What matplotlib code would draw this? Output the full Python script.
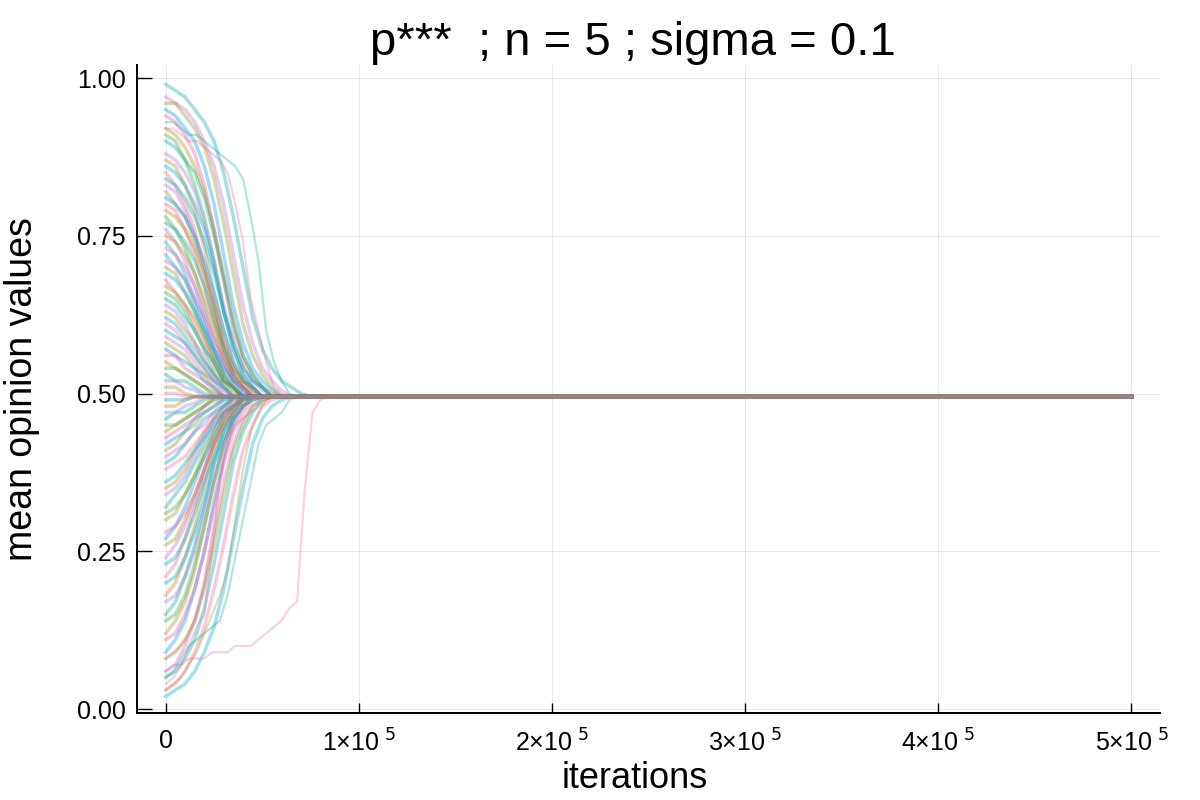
import matplotlib
matplotlib.use("Agg")
import matplotlib.pyplot as plt
from matplotlib.ticker import FuncFormatter

plt.rcParams['font.family'] = ['Liberation Sans', 'DejaVu Sans']

# iteration checkpoints; each run is held at the consensus value once its list ends
iters = [0, 5000, 10000, 15000, 20000, 25000, 30000, 35000, 40000, 45000, 50000,
         55000, 60000, 65000, 70000, 75000, 80000, 85000, 90000]
slow_iters = [0, 4000, 8000, 12000, 16000, 20000, 24000, 28000, 32000, 36000, 40000,
              44000, 48000, 52000, 56000, 60000, 64000, 68000, 72000, 76000, 80000, 84000]
last_iter = 500000
final_value = 0.495

upper_runs = [
    [0.99, 0.98, 0.97, 0.95, 0.93, 0.90, 0.85, 0.78, 0.70, 0.62, 0.57, 0.54, 0.52, 0.51, 0.50],
    [0.97, 0.96, 0.95, 0.93, 0.90, 0.86, 0.80, 0.72, 0.64, 0.58, 0.54, 0.52, 0.505],
    [0.96, 0.96, 0.94, 0.92, 0.89, 0.84, 0.77, 0.69, 0.61, 0.56, 0.53, 0.51],
    [0.95, 0.94, 0.92, 0.90, 0.86, 0.80, 0.72, 0.64, 0.58, 0.54, 0.52, 0.505],
    [0.94, 0.93, 0.91, 0.88, 0.83, 0.76, 0.68, 0.60, 0.55, 0.52, 0.51],
    [0.92, 0.91, 0.89, 0.86, 0.82, 0.76, 0.69, 0.62, 0.56, 0.53, 0.51, 0.50],
    [0.91, 0.90, 0.87, 0.83, 0.78, 0.71, 0.63, 0.57, 0.53, 0.51],
    [0.90, 0.89, 0.87, 0.85, 0.81, 0.75, 0.68, 0.61, 0.56, 0.53, 0.51],
    [0.88, 0.87, 0.85, 0.82, 0.77, 0.71, 0.64, 0.58, 0.54, 0.52, 0.505],
    [0.87, 0.86, 0.83, 0.79, 0.73, 0.66, 0.60, 0.55, 0.52, 0.51],
    [0.86, 0.85, 0.83, 0.80, 0.76, 0.70, 0.63, 0.57, 0.53, 0.51],
    [0.85, 0.83, 0.80, 0.76, 0.70, 0.64, 0.58, 0.54, 0.52, 0.505],
    [0.84, 0.83, 0.81, 0.78, 0.74, 0.69, 0.63, 0.58, 0.54, 0.52, 0.51],
    [0.83, 0.82, 0.79, 0.75, 0.70, 0.64, 0.58, 0.54, 0.52, 0.50],
    [0.82, 0.80, 0.78, 0.74, 0.69, 0.63, 0.57, 0.53, 0.51],
    [0.81, 0.80, 0.78, 0.75, 0.71, 0.66, 0.60, 0.55, 0.52, 0.51],
    [0.80, 0.79, 0.76, 0.72, 0.67, 0.61, 0.56, 0.53, 0.51],
    [0.79, 0.78, 0.76, 0.73, 0.69, 0.64, 0.58, 0.54, 0.52, 0.505],
    [0.78, 0.76, 0.73, 0.69, 0.64, 0.59, 0.55, 0.52, 0.51],
    [0.77, 0.76, 0.74, 0.71, 0.67, 0.62, 0.57, 0.53, 0.51],
    [0.76, 0.74, 0.71, 0.67, 0.62, 0.57, 0.54, 0.52, 0.505],
    [0.75, 0.74, 0.72, 0.69, 0.65, 0.61, 0.56, 0.53, 0.51],
    [0.74, 0.72, 0.69, 0.65, 0.61, 0.57, 0.53, 0.51],
    [0.73, 0.72, 0.70, 0.67, 0.63, 0.59, 0.55, 0.52, 0.51],
    [0.72, 0.70, 0.68, 0.64, 0.60, 0.56, 0.53, 0.51],
    [0.71, 0.70, 0.68, 0.65, 0.62, 0.58, 0.55, 0.52, 0.505],
    [0.70, 0.69, 0.66, 0.63, 0.59, 0.55, 0.52, 0.51],
    [0.69, 0.68, 0.66, 0.63, 0.60, 0.57, 0.54, 0.52, 0.50],
    [0.68, 0.66, 0.64, 0.61, 0.58, 0.55, 0.52, 0.51],
    [0.67, 0.66, 0.64, 0.62, 0.59, 0.56, 0.53, 0.51],
    [0.66, 0.65, 0.63, 0.60, 0.57, 0.54, 0.52, 0.505],
    [0.65, 0.64, 0.62, 0.60, 0.57, 0.55, 0.52, 0.51],
    [0.64, 0.63, 0.61, 0.58, 0.56, 0.53, 0.51],
    [0.63, 0.62, 0.60, 0.58, 0.55, 0.53, 0.515, 0.50],
    [0.62, 0.61, 0.59, 0.57, 0.55, 0.53, 0.51],
    [0.61, 0.60, 0.58, 0.56, 0.54, 0.52, 0.505],
    [0.60, 0.59, 0.58, 0.56, 0.54, 0.52, 0.51],
    [0.59, 0.58, 0.57, 0.55, 0.53, 0.52, 0.50],
    [0.58, 0.57, 0.56, 0.54, 0.53, 0.51],
    [0.57, 0.56, 0.55, 0.54, 0.52, 0.51],
    [0.56, 0.56, 0.54, 0.53, 0.52, 0.505],
    [0.55, 0.54, 0.53, 0.52, 0.51],
    [0.54, 0.54, 0.53, 0.52, 0.51, 0.50],
    [0.53, 0.52, 0.52, 0.51, 0.50],
    [0.52, 0.52, 0.51, 0.505],
    [0.51, 0.51, 0.50],
]

lower_runs = [
    [0.02, 0.03, 0.04, 0.06, 0.09, 0.13, 0.19, 0.27, 0.35, 0.42, 0.46, 0.48, 0.49],
    [0.03, 0.04, 0.06, 0.09, 0.13, 0.19, 0.26, 0.34, 0.41, 0.45, 0.48, 0.49],
    [0.05, 0.06, 0.08, 0.11, 0.16, 0.23, 0.31, 0.39, 0.44, 0.47, 0.49],
    [0.06, 0.07, 0.10, 0.14, 0.20, 0.28, 0.36, 0.42, 0.46, 0.48],
    [0.08, 0.09, 0.11, 0.14, 0.19, 0.26, 0.34, 0.41, 0.45, 0.48, 0.49],
    [0.09, 0.11, 0.14, 0.19, 0.25, 0.33, 0.40, 0.45, 0.48],
    [0.11, 0.12, 0.15, 0.19, 0.25, 0.32, 0.39, 0.44, 0.47, 0.49],
    [0.12, 0.14, 0.17, 0.22, 0.29, 0.36, 0.42, 0.46, 0.48],
    [0.14, 0.15, 0.18, 0.23, 0.29, 0.36, 0.42, 0.46, 0.48, 0.49],
    [0.15, 0.17, 0.21, 0.26, 0.32, 0.39, 0.44, 0.47, 0.49],
    [0.17, 0.18, 0.21, 0.25, 0.31, 0.37, 0.42, 0.46, 0.48],
    [0.18, 0.20, 0.24, 0.29, 0.35, 0.41, 0.45, 0.48],
    [0.20, 0.21, 0.24, 0.28, 0.33, 0.39, 0.43, 0.46, 0.48, 0.49],
    [0.21, 0.23, 0.27, 0.32, 0.37, 0.42, 0.46, 0.48],
    [0.23, 0.24, 0.27, 0.31, 0.36, 0.40, 0.44, 0.47, 0.49],
    [0.24, 0.26, 0.29, 0.33, 0.38, 0.43, 0.46, 0.48],
    [0.26, 0.27, 0.30, 0.34, 0.38, 0.42, 0.45, 0.47, 0.49],
    [0.27, 0.29, 0.32, 0.36, 0.40, 0.44, 0.47, 0.48],
    [0.28, 0.29, 0.31, 0.34, 0.38, 0.42, 0.45, 0.47, 0.49],
    [0.30, 0.31, 0.34, 0.37, 0.41, 0.44, 0.47, 0.48],
    [0.31, 0.32, 0.34, 0.37, 0.40, 0.43, 0.46, 0.48, 0.49],
    [0.32, 0.34, 0.36, 0.39, 0.42, 0.45, 0.47, 0.49],
    [0.34, 0.35, 0.37, 0.40, 0.43, 0.45, 0.47, 0.48],
    [0.35, 0.36, 0.38, 0.41, 0.44, 0.46, 0.48, 0.49],
    [0.36, 0.37, 0.39, 0.41, 0.43, 0.46, 0.48],
    [0.38, 0.39, 0.40, 0.42, 0.44, 0.46, 0.47, 0.49],
    [0.39, 0.40, 0.42, 0.44, 0.46, 0.47, 0.48],
    [0.40, 0.41, 0.42, 0.44, 0.45, 0.47, 0.49],
    [0.41, 0.42, 0.44, 0.45, 0.47, 0.48],
    [0.42, 0.43, 0.44, 0.46, 0.47, 0.48, 0.49],
    [0.43, 0.44, 0.45, 0.46, 0.48, 0.49],
    [0.44, 0.45, 0.46, 0.47, 0.48],
    [0.45, 0.45, 0.46, 0.47, 0.48, 0.49],
    [0.46, 0.47, 0.47, 0.48, 0.49],
    [0.47, 0.47, 0.48, 0.485],
    [0.48, 0.48, 0.49],
    [0.49, 0.49, 0.49],
    [0.50, 0.50, 0.495],
]

# slow runs that stay away from the consensus for a long time (read on slow_iters)
slow_runs = [
    [0.93, 0.93, 0.92, 0.91, 0.91, 0.90, 0.89, 0.88, 0.87, 0.86, 0.84, 0.78, 0.71, 0.60, 0.55, 0.52, 0.50],
    [0.92, 0.92, 0.91, 0.90, 0.90, 0.89, 0.88, 0.87, 0.85, 0.80, 0.74, 0.65, 0.60, 0.55, 0.51, 0.50],
    [0.06, 0.07, 0.07, 0.08, 0.08, 0.08, 0.09, 0.09, 0.09, 0.10, 0.10, 0.10, 0.11, 0.12, 0.13,
     0.14, 0.16, 0.17, 0.35, 0.47, 0.49],
    [0.05, 0.06, 0.08, 0.10, 0.11, 0.12, 0.13, 0.14, 0.18, 0.24, 0.30, 0.36, 0.42, 0.45, 0.46, 0.47, 0.49],
    [0.04, 0.05, 0.07, 0.10, 0.13, 0.15, 0.25, 0.36, 0.43, 0.45, 0.46, 0.47, 0.48, 0.49],
    [0.03, 0.04, 0.05, 0.07, 0.09, 0.12, 0.15, 0.18, 0.22, 0.30, 0.38, 0.44, 0.47, 0.49],
    [0.08, 0.09, 0.10, 0.12, 0.15, 0.20, 0.28, 0.36, 0.42, 0.46, 0.48, 0.49],
]

palette = ["#00A9AD", "#C371D2", "#8E971D", "#009AF9", "#ED5E93", "#AC8D18",
           "#3DA44D", "#00A98D", "#9B7FE8", "#C68125", "#00A9CD", "#F06D96"]
slow_colors = ["#00A98D", "#ED5E93", "#F16C95", "#00A98D", "#ED5E93", "#8E971E", "#F16C95"]

fig = plt.figure(figsize=(12, 8), dpi=100)
ax = fig.add_axes([0.114, 0.109, 0.853, 0.81])


def draw_run(grid, vals, color, lw, alpha):
    y = vals + [final_value] * (len(grid) - len(vals)) + [final_value]
    x = grid + [last_iter]
    ax.plot(x, y, color=color, alpha=alpha, lw=lw)


k = 0
for run in upper_runs + lower_runs:
    draw_run(iters, run, palette[k % len(palette)], 2.5, 0.36)
    k += 1
for run, c in zip(slow_runs, slow_colors):
    draw_run(slow_iters, run, c, 1.6, 0.3)

ax.set_xlim(-15000, 515000)
ax.set_ylim(-0.006, 1.021)
ax.set_xticks([0, 100000, 200000, 300000, 400000, 500000])
ax.set_yticks([0.0, 0.25, 0.5, 0.75, 1.0])
ax.xaxis.set_major_formatter(FuncFormatter(
    lambda v, p: "0" if v == 0 else "%d×10$^{\\ 5}$" % round(v / 1e5)))
ax.yaxis.set_major_formatter(FuncFormatter(lambda v, p: "%.2f" % v))

ax.grid(True, color='black', alpha=0.1, lw=0.6)
ax.spines['top'].set_visible(False)
ax.spines['right'].set_visible(False)
ax.spines['left'].set_linewidth(1.4)
ax.spines['bottom'].set_linewidth(1.4)
ax.tick_params(axis='x', direction='in', length=7, width=1, labelsize=18, pad=12)
ax.tick_params(axis='y', direction='in', length=11, width=1, labelsize=18, pad=8)

ax.set_title("p***  ; n = 5 ; sigma = 0.1", fontsize=34, pad=6, x=0.485)
ax.set_xlabel("iterations", fontsize=26)
ax.set_ylabel("mean opinion values", fontsize=27)
ax.xaxis.set_label_coords(0.486, -0.075)
ax.yaxis.set_label_coords(-0.095, 0.5)

fig.savefig("out.png", dpi=100)
